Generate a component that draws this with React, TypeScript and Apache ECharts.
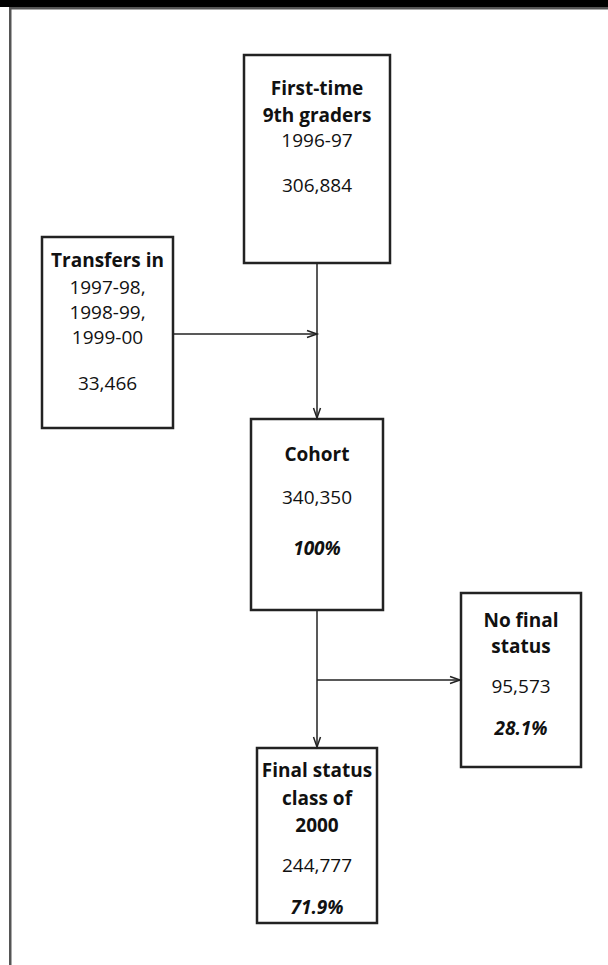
import React, { useEffect, useRef } from "react";
import * as echarts from "echarts";

// ---- data ----
const boxIds = ["first", "transfers", "cohort", "nofinal", "final"];
const boxTitles = [
  ["First-time", "9th graders"],
  ["Transfers in"],
  ["Cohort"],
  ["No final", "status"],
  ["Final status", "class of", "2000"],
];
const boxSubtitles = [["1996-97"], ["1997-98,", "1998-99,", "1999-00"], [], [], []];
const boxCounts = ["306,884", "33,466", "340,350", "95,573", "244,777"];
const boxPercents = ["", "", "100%", "28.1%", "71.9%"];

// ---- layout (positions only) ----
// [x0, y0, x1, y1]
const boxRects = [
  [244, 55, 390, 263],
  [42, 237, 173, 428],
  [251, 419, 383, 610],
  [461, 593, 581, 767],
  [257, 748, 377, 923],
];
// y centres of each text line per box (titles, subtitles, count, percent)
const lineYs = [
  [88, 115, 140, 185],
  [260, 287, 312, 337, 383],
  [454, 497, 548],
  [620, 646, 686, 728],
  [770, 798, 825, 865, 907],
];

const FONT = '"Open Sans", "Noto Sans", sans-serif';
const INK = "#222";

export default function App() {
  const ref = useRef<HTMLDivElement>(null);
  useEffect(() => {
    document.body.style.margin = "0";
    const chart = echarts.init(ref.current!, null, { renderer: "svg" });
    const elements: any[] = [];

    // frame
    elements.push({ type: "rect", shape: { x: 0, y: 0, width: 608, height: 7 }, style: { fill: "#000" } });
    elements.push({ type: "rect", shape: { x: 9, y: 7, width: 599, height: 2.5 }, style: { fill: "#555" } });
    elements.push({ type: "rect", shape: { x: 9, y: 7, width: 2.5, height: 958 }, style: { fill: "#555" } });

    // boxes
    boxIds.forEach((id, i) => {
      const [x0, y0, x1, y1] = boxRects[i];
      const cx = (x0 + x1) / 2;
      elements.push({
        type: "rect",
        shape: { x: x0, y: y0, width: x1 - x0, height: y1 - y0 },
        style: { fill: "#fff", stroke: INK, lineWidth: 2.5 },
      });
      const lines: { t: string; w: string; s: string }[] = [];
      boxTitles[i].forEach((t) => lines.push({ t, w: "bold", s: "normal" }));
      boxSubtitles[i].forEach((t) => lines.push({ t, w: "normal", s: "normal" }));
      lines.push({ t: boxCounts[i], w: "normal", s: "normal" });
      if (boxPercents[i]) lines.push({ t: boxPercents[i], w: "bold", s: "italic" });
      lines.forEach((ln, k) => {
        elements.push({
          type: "text",
          x: cx,
          y: lineYs[i][k],
          style: {
            text: ln.t,
            fontFamily: FONT,
            fontSize: 19,
            fontWeight: ln.w,
            fontStyle: ln.s,
            fill: "#111",
            align: "center",
            verticalAlign: "middle",
          },
        });
      });
    });

    // connectors
    const cxMain = (boxRects[0][0] + boxRects[0][2]) / 2;
    const addLine = (x1: number, y1: number, x2: number, y2: number) =>
      elements.push({ type: "line", shape: { x1, y1, x2, y2 }, style: { stroke: INK, lineWidth: 1.5 } });
    const arrowDown = (x: number, y: number) =>
      elements.push({
        type: "polyline",
        shape: { points: [[x - 3.5, y - 10], [x, y], [x + 3.5, y - 10]] },
        style: { stroke: INK, lineWidth: 1.5, fill: null },
      });
    const arrowRight = (x: number, y: number) =>
      elements.push({
        type: "polyline",
        shape: { points: [[x - 10, y - 3.5], [x, y], [x - 10, y + 3.5]] },
        style: { stroke: INK, lineWidth: 1.5, fill: null },
      });

    // first-time -> cohort
    addLine(cxMain, boxRects[0][3], cxMain, boxRects[2][1] - 1);
    arrowDown(cxMain, boxRects[2][1] - 1);
    // transfers -> main line
    const yT = 334;
    addLine(boxRects[1][2], yT, cxMain, yT);
    arrowRight(cxMain, yT);
    // cohort -> final
    addLine(cxMain, boxRects[2][3], cxMain, boxRects[4][1] - 1);
    arrowDown(cxMain, boxRects[4][1] - 1);
    // branch -> no final
    const yB = 680;
    addLine(cxMain, yB, boxRects[3][0] - 1, yB);
    arrowRight(boxRects[3][0] - 1, yB);

    chart.setOption({ animation: false, graphic: { elements } });
    return () => chart.dispose();
  }, []);
  return <div ref={ref} style={{ width: 608, height: 965, background: "#fff" }} />;
}
